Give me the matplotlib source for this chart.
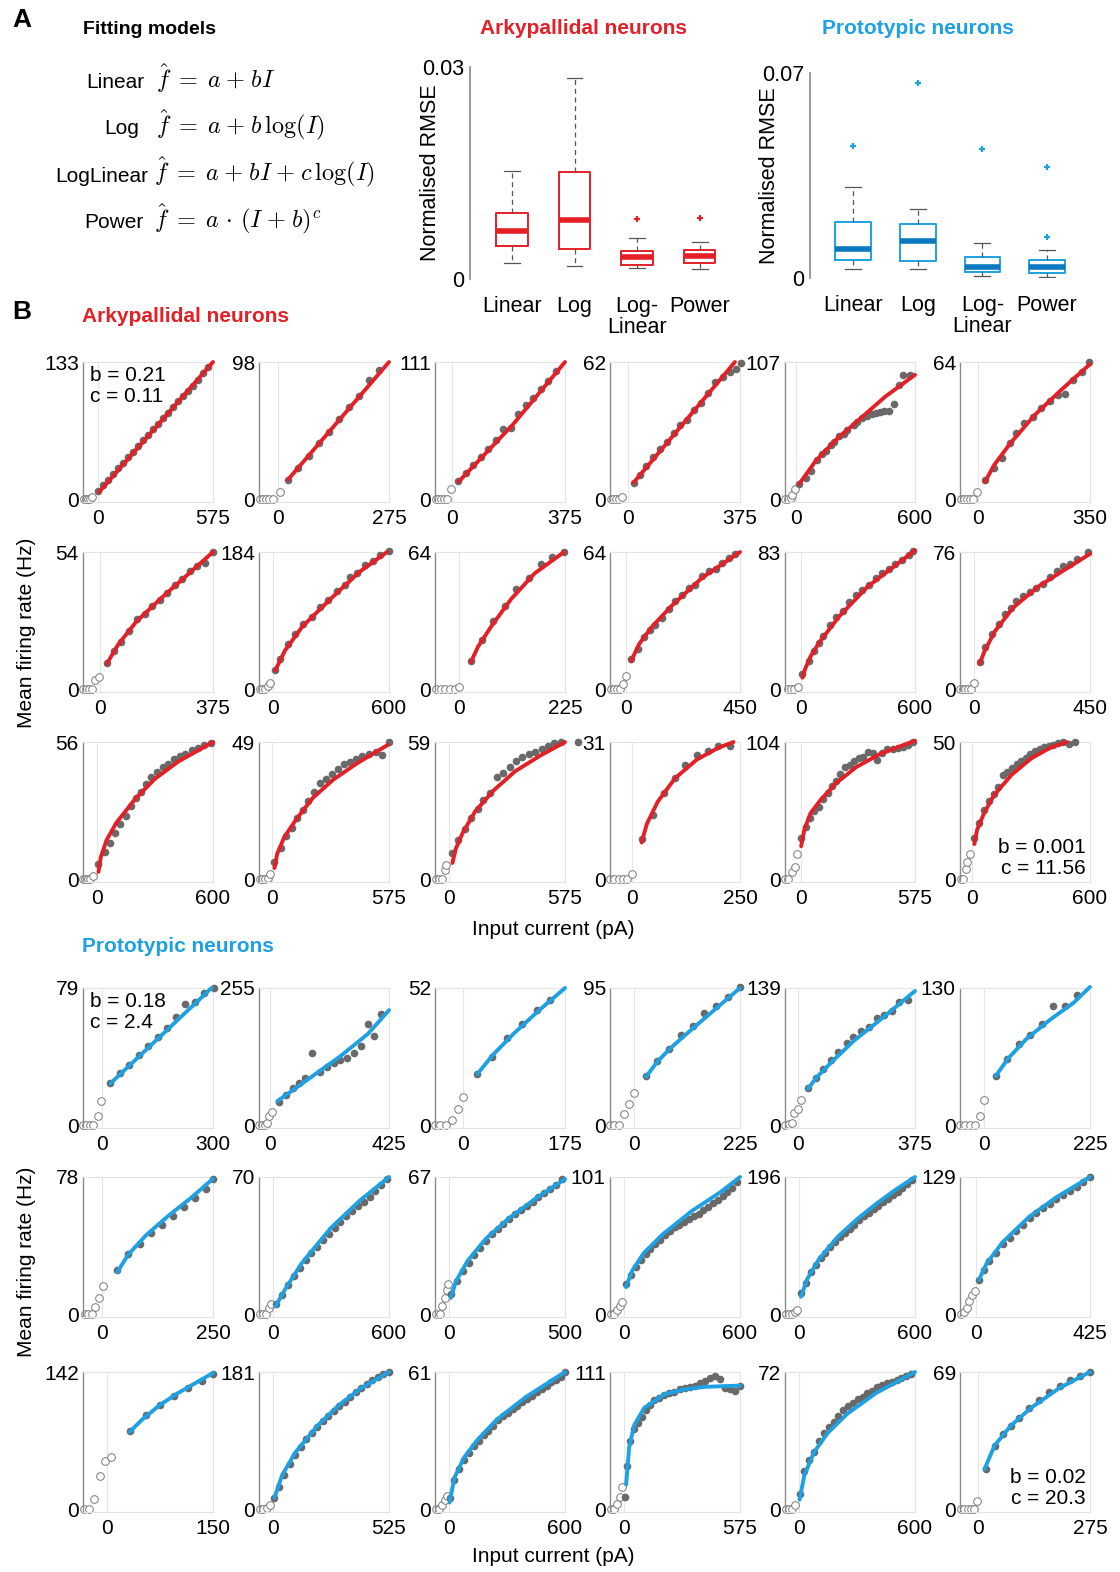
import numpy as np
import matplotlib.pyplot as plt

plt.rcParams.update({
    'font.family': 'Liberation Sans',
    'mathtext.fontset': 'cm',
    'font.size': 14,
})

RED = '#e41f26'
BLUE = '#1da1e2'
BLUE_MED = '#0b78c0'
DOT = '#696969'

# ---- panel A: normalised RMSE box plots ----
box_labels = ['Linear', 'Log', 'Log-\nLinear', 'Power']

red_med = [0.0068, 0.0083, 0.0031, 0.0032]
red_q1 = [0.0047, 0.0042, 0.0020, 0.0022]
red_q3 = [0.0093, 0.0152, 0.0039, 0.0041]
red_wlo = [0.0023, 0.0019, 0.0015, 0.0014]
red_whi = [0.0153, 0.0284, 0.0058, 0.0053]
red_fliers = [[], [], [0.0085], [0.0087]]

blue_med = [0.0098, 0.0127, 0.0037, 0.0039]
blue_q1 = [0.0061, 0.0058, 0.0020, 0.0018]
blue_q3 = [0.0192, 0.0183, 0.0072, 0.0063]
blue_wlo = [0.0031, 0.0031, 0.0006, 0.0002]
blue_whi = [0.0312, 0.0234, 0.0118, 0.0097]
blue_fliers = [[0.0451], [0.0666], [0.0442], [0.0380, 0.0140]]

# ---- panel B: f-I curves (Arkypallidal) ----
red_xmax = [575, 275, 375, 375, 600, 350, 375, 600, 225, 450, 600, 450, 600, 575, 575, 250, 575, 600]
red_ymax = [133, 98, 111, 62, 107, 64, 54, 184, 64, 64, 83, 76, 56, 49, 59, 31, 104, 50]
red_xlo = [-75, -48, -58, -60, -55, -57, -56, -75, -52, -65, -85, -55, -72, -64, -67, -50, -78, -62]

red_open_x = [
    [-70, -60, -50, -40, -28], [-46, -38, -30, -22, -13, 3], [-56, -47, -38, -29, -18, -5],
    [-58, -49, -40, -31, -20], [-53, -40, -27, -18, -6], [-55, -45, -35, -25, -15, -5],
    [-55, -45, -35, -26, -15, -3], [-72, -58, -44, -30, -17], [-50, -40, -30, -20, -10, 0],
    [-62, -50, -38, -25, -12, -3], [-70, -55, -40, -18], [-55, -45, -35, -25, -12, 0],
    [-72, -60, -48, -35, -20], [-61, -48, -35, -22, -10], [-60, -45, -30, -20, -12],
    [-50, -40, -30, -20, -10, 0], [-78, -65, -44, -30, -18], [-58, -45, -32, -24, -12],
]
red_open_y = [
    [0, 0, 0, 0, 2], [0, 0, 0, 0, 0, 5], [0, 0, 0, 0, 0, 8],
    [0, 0, 0, 0, 1], [0, 0, 1.3, 3.3, 7.7], [0, 0, 0, 0, 0, 3.5],
    [0, 0, 0, 0, 3.7, 5], [0, 0, 1, 4.4, 8.8], [0, 0, 0, 0, 0, 1.2],
    [0, 0, 0, 0, 2.3, 6], [0, 0, 0, 1.2], [0, 0, 0, 0, 0, 3.3],
    [0, 0, 0, 0.3, 1.3], [0, 0, 0, 0.5, 1.9], [0, 0, 0, 3.9, 6],
    [0, 0, 0, 0, 0, 1.2], [0, 0, 5.7, 9.4, 19], [0, 0, 3.9, 6.3, 9.3],
]
red_dot_x = [
    [0, 25, 50, 75, 100, 125, 150, 175, 200, 225, 250, 275, 300, 325, 350, 375, 400, 425, 450, 475, 500, 525, 550],
    [25, 50, 75, 100, 125, 150, 175, 200, 225, 250],
    [20, 45, 70, 95, 120, 145, 170, 195, 220, 245, 270, 295, 320, 345],
    [19, 40, 62, 85, 108, 130, 155, 175, 198, 220, 245, 268, 292, 318, 340, 360, 378],
    [17, 50, 75, 108, 130, 150, 175, 192, 217, 240, 258, 292, 310, 333, 360, 383, 405, 425, 445, 467, 492, 517, 542, 575],
    [21, 50, 73, 99, 118, 144, 172, 196, 224, 251, 272, 298, 324, 347],
    [23, 48, 70, 98, 123, 148, 172, 198, 223, 248, 272, 298, 322, 348, 375],
    [9, 35, 74, 112, 156, 199, 242, 285, 329, 372, 398, 433, 476, 519, 554, 600],
    [24, 49, 72, 98, 121, 148, 173, 197, 223],
    [18, 44, 71, 95, 115, 141, 168, 194, 220, 247, 273, 300, 326, 353, 379, 406, 432],
    [7, 39, 69, 92, 115, 150, 185, 219, 254, 289, 323, 358, 392, 427, 462, 497, 531, 566, 589],
    [21, 43, 69, 95, 118, 142, 164, 190, 216, 242, 268, 294, 320, 346, 372, 398, 441],
    [4, 42, 67, 91, 120, 149, 175, 200, 229, 253, 280, 309, 339, 368, 400, 429, 457, 491, 520, 552, 590],
    [12, 42, 71, 97, 122, 151, 178, 207, 236, 266, 297, 325, 356, 385, 415, 444, 478, 512, 541, 575],
    [19, 48, 82, 109, 144, 172, 205, 239, 268, 301, 335, 364, 397, 427, 460, 492, 523, 555, 640],
    [23, 49, 75, 99, 122, 150, 175, 199, 226],
    [3, 26, 49, 70, 91, 113, 136, 157, 179, 200, 223, 247, 270, 293, 314, 340, 362, 383, 409, 435, 462, 488, 514, 540, 566],
    [11, 36, 62, 86, 109, 132, 156, 179, 203, 226, 249, 273, 296, 319, 343, 366, 389, 413, 436, 460, 491, 522],
]
red_dot_y = [
    [8, 13.5, 19, 24.5, 30, 35, 40.5, 46, 51.5, 57, 62.5, 68, 73, 79, 84, 89, 95, 100, 105, 110, 116, 122, 128],
    [14, 22, 31, 40, 48, 57, 66, 74, 85, 92],
    [15, 21, 28, 34, 41, 48, 57, 58, 69, 76, 82, 89, 96, 104],
    [7.5, 11, 15, 19, 22.5, 26, 30, 33.5, 36, 40.5, 43.5, 48, 53, 55, 57.5, 59, 61.5],
    [12, 16.6, 22, 30.7, 35, 38, 42, 45, 49, 51, 54, 58, 60, 63, 65, 66.5, 67.5, 68, 68.5, 69, 74, 89, 97, 97],
    [9, 14.5, 19.4, 26, 31, 35.4, 38.4, 42.6, 46, 48.6, 49.3, 55.8, 59.4, 64],
    [10.4, 15, 18.7, 23, 27.8, 29.5, 32.6, 35, 37.7, 41, 43.5, 46.6, 48.5, 49.8, 54],
    [26, 40, 61, 74.5, 87, 97, 110, 119, 132, 140, 150, 156, 167, 172, 180, 185],
    [13, 23, 32, 39, 46.7, 52, 58.5, 61.6, 64],
    [14, 19, 24.5, 27.5, 30, 33.3, 37.6, 41, 44, 47, 48.8, 53, 55.3, 56, 59, 61, 63],
    [9.5, 17, 23, 28, 32, 38.7, 43.5, 47.4, 53, 57, 60, 63, 67, 70, 72.7, 75.7, 78, 81.4, 83.5],
    [15, 23.5, 30.7, 36, 41.6, 45, 48.8, 51.7, 54, 56, 58.4, 62, 65.6, 68.4, 69.3, 72, 76],
    [6.4, 11, 14.7, 18.7, 22.7, 26, 29.7, 33, 35.7, 38.7, 41.7, 43.7, 45.7, 47, 49, 50.4, 51, 52.8, 53.7, 54.7, 55.7],
    [6.2, 11.2, 15.5, 18.4, 22, 24.8, 27.8, 31, 34.2, 35.7, 37.7, 39.4, 41.2, 41.8, 43, 43.9, 44.7, 45.5, 44.3, 49],
    [11.5, 17, 21.6, 26.3, 30.2, 34, 37, 44, 45.7, 48.2, 50.7, 52.6, 53.7, 54.8, 55.8, 57.2, 58.5, 59, 59],
    [9, 14.6, 19.4, 22.8, 25.8, 28, 29, 30, 30],
    [31, 39.5, 46.4, 51.4, 55, 60.7, 65.7, 71, 74.8, 79.8, 84.7, 86.4, 89.6, 92, 93, 96.3, 95.3, 90.4, 96, 99, 99, 99.5, 100.2, 102, 104],
    [15.2, 20.5, 25.3, 28.5, 30.9, 33.6, 37.8, 39.2, 40.7, 42, 43.1, 44.3, 45.5, 46.7, 47.5, 48.2, 48.7, 49, 49.6, 49.9, 49.2, 49.9],
]
red_fit_x = [
    [5, 575], [24, 275], [20, 200, 375], [19, 358], [17, 100, 200, 325, 450, 600], [21, 50, 100, 175, 260, 350],
    [23, 60, 120, 200, 290, 375], [9, 60, 150, 300, 450, 590], [24, 40, 70, 110, 160, 223],
    [18, 50, 100, 180, 300, 450], [7, 20, 50, 100, 200, 350, 600], [21, 40, 80, 150, 250, 350, 450],
    [8, 20, 50, 100, 200, 300, 420, 600], [12, 25, 60, 120, 200, 300, 420, 570], [19, 35, 70, 130, 220, 330, 450, 575],
    [23, 35, 60, 100, 150, 200, 235], [3, 20, 50, 100, 180, 280, 400, 575], [11, 25, 60, 110, 200, 300, 400, 482],
]
red_fit_y = [
    [7, 133], [14, 98], [14, 60, 111], [7.5, 62], [12, 30, 46, 63, 80, 97], [8, 16, 26, 39, 51, 63],
    [10, 17.5, 26.5, 35.5, 45, 54], [25, 52, 84, 122, 158, 184], [12.5, 20, 30, 42, 54, 64],
    [13, 21, 29, 39, 52, 64], [7, 12, 20, 29, 44, 62, 84], [14, 21, 32, 45, 57, 66, 75],
    [3, 9, 16, 23, 33, 41, 48, 56], [4, 9, 15, 21.5, 29, 35.5, 41.5, 48], [7, 13, 20, 29, 38, 46.5, 53, 59],
    [8.3, 12.5, 17.5, 22.8, 27, 29.7, 31], [25, 38, 50, 60, 73, 85, 95, 105], [12.8, 18, 24, 30.5, 38, 44, 48, 50],
]

# ---- panel B: f-I curves (Prototypic) ----
blue_xmax = [300, 425, 175, 225, 375, 225, 250, 600, 500, 600, 600, 425, 150, 525, 600, 575, 600, 275]
blue_ymax = [79, 255, 52, 95, 139, 130, 78, 70, 67, 101, 196, 129, 142, 181, 61, 111, 72, 69]
blue_xlo = [-52, -41, -49, -50, -43, -52, -42, -70, -60, -75, -75, -60, -34, -65, -70, -70, -70, -45]

blue_open_x = [
    [-52, -43, -33, -24, -12, -2], [-41, -31, -21, -12, -4, 6], [-49, -40, -30, -20, -10, 0],
    [-50, -41, -30, -20, -9, 0], [-43, -31, -20, -13, -2, 9], [-52, -41, -31, -21, -9, 0],
    [-38, -30, -22, -14, -6, 4], [-65, -50, -35, -20, -8], [-55, -40, -28, -18, -10, -3],
    [-70, -55, -40, -25, -12], [-70, -55, -40, -25, -12], [-55, -45, -35, -25, -15, -5],
    [-33, -26, -18, -10, -3, 6], [-60, -45, -30, -15], [-65, -50, -35, -20, -8],
    [-65, -50, -35, -20, -8], [-65, -50, -35, -20], [-42, -34, -26, -18, -10, -2],
]
blue_open_y = [
    [0, 0, 0, 0, 5.6, 14], [0, 0, 0, 4.2, 18, 25.5], [0, 0, 0, 2, 6, 10.7],
    [0, 0, 0, 7.7, 14.5, 22], [0, 1.3, 2.3, 12, 16.6, 25.5], [0, 0, 0, 0, 8.4, 23.8],
    [0, 0, 0, 4, 9, 16], [0, 0, 0, 3, 5], [0, 0, 4, 8, 12, 15],
    [0, 0, 3, 6, 9], [0, 0, 0, 3, 6], [0, 2, 6, 12, 18, 22],
    [0, 0, 11, 34, 50, 54], [0, 0, 2, 5], [0, 0, 2, 4, 6],
    [0, 0, 4, 10, 18], [0, 0, 0, 2], [0, 0, 0, 0, 0, 4],
]
blue_dot_x = [
    [22, 48, 73, 100, 125, 150, 176, 200, 224, 250, 276, 302],
    [31, 56, 81, 104, 125, 150, 179, 204, 229, 250, 275, 300, 325, 348, 373, 396],
    [24, 50, 75, 101, 126, 150],
    [26, 50, 75, 100, 125, 148, 174, 200, 225],
    [31, 58, 78, 106, 129, 155, 177, 202, 228, 252, 275, 300, 325, 351],
    [24, 48, 73, 98, 123, 147, 171, 197],
    [35, 60, 85, 110, 135, 160, 185, 210, 235, 250],
    [20, 50, 80, 110, 140, 170, 200, 230, 260, 290, 320, 350, 380, 410, 440, 470, 500, 530, 560, 590],
    [10, 35, 60, 85, 110, 135, 160, 185, 210, 235, 260, 285, 310, 335, 360, 385, 410, 435, 460, 485],
    [10, 35, 60, 85, 110, 135, 160, 185, 210, 235, 260, 285, 310, 335, 360, 385, 410, 435, 460, 485, 510, 535, 560, 585],
    [10, 35, 60, 85, 110, 135, 160, 185, 210, 235, 260, 285, 310, 335, 360, 385, 410, 435, 460, 485, 510, 535, 560, 585],
    [10, 30, 50, 75, 100, 125, 150, 175, 200, 225, 250, 275, 300, 325, 350, 375, 400, 425],
    [32, 55, 75, 95, 115, 135, 150],
    [5, 25, 50, 75, 100, 125, 150, 175, 200, 225, 250, 275, 300, 325, 350, 375, 400, 425, 450, 475, 500, 525],
    [5, 30, 55, 80, 105, 130, 155, 180, 205, 230, 255, 280, 305, 330, 355, 380, 405, 430, 455, 480, 505, 530, 555, 580, 600],
    [5, 15, 30, 50, 70, 90, 110, 130, 150, 175, 200, 225, 250, 275, 300, 325, 350, 375, 400, 425, 450, 475, 500, 525, 550, 575],
    [5, 30, 55, 80, 105, 130, 155, 180, 205, 230, 255, 280, 305, 330, 355, 380, 405, 430, 455, 480, 505, 530, 555, 580],
    [20, 40, 60, 80, 100, 125, 150, 175, 200, 225, 250, 275],
]
blue_dot_y = [
    [24.4, 30, 34.8, 40.2, 45.5, 50.6, 55.8, 62.4, 70, 70.9, 76, 79],
    [43.7, 57, 69, 79, 87, 133.6, 99.6, 109, 115, 121, 125.7, 133.6, 147, 189, 166, 207.6],
    [19.4, 26, 33, 38.3, 43.5, 47.5],
    [34, 44.6, 53, 62.7, 68.8, 77.4, 82.4, 89, 95.5],
    [37.7, 47.7, 57, 66, 74, 82.8, 89.4, 95, 100, 109, 111.6, 116, 125, 126.5],
    [47, 63, 77, 85.8, 96, 112.7, 113, 123],
    [25, 34, 40, 46, 51, 56, 61, 66, 71, 77],
    [5, 10, 15, 19.5, 23.5, 27.5, 31, 34.5, 38, 41, 44, 47, 50, 52.5, 55, 57.5, 60, 63, 66, 69],
    [10, 16, 21, 25, 29, 32.5, 36, 39, 41.5, 44, 46.5, 49, 51, 53, 55, 57, 59, 61, 63, 66],
    [22, 29, 35, 40, 44, 48, 52, 55, 58, 61, 64, 66, 68, 70, 72, 74, 77, 79, 82, 84, 87, 90, 93, 97],
    [30, 45, 60, 70, 80, 88, 96, 103, 110, 116, 122, 128, 134, 140, 145, 150, 155, 160, 165, 170, 175, 180, 186, 192],
    [32, 42, 50, 58, 66, 72, 78, 84, 90, 95, 100, 104, 108, 112, 116, 120, 124, 129],
    [81, 97, 108, 117, 125, 133, 140],
    [15, 30, 45, 60, 72, 82, 92, 100, 108, 116, 123, 130, 136, 142, 148, 155, 160, 165, 170, 175, 178, 181],
    [5, 13, 18, 22, 25, 28, 30.5, 33, 35, 37, 39.5, 41.5, 43, 44.5, 46, 47.5, 49, 50.5, 52, 53.5, 55, 56.5, 57.5, 59, 61],
    [10, 35, 55, 65, 70, 75, 80, 84, 88, 90, 92, 94, 95, 97, 98, 99, 100, 102, 104, 106, 108, 105, 98, 97, 96, 100],
    [8, 20, 26, 30, 36, 40, 43, 46, 49, 52, 54, 56, 58, 59, 61, 62, 64, 65, 66, 67, 68, 69, 70, 71],
    [20, 32, 38, 42, 46, 51, 55, 59, 62, 65, 67, 69],
]
blue_fit_x = [
    [22, 296], [25, 80, 150, 250, 350, 425], [24, 50, 87, 130, 175],
    [26, 50, 80, 125, 175, 225], [31, 60, 110, 180, 260, 375], [24, 50, 90, 140, 190, 225],
    [35, 60, 100, 150, 200, 250], [15, 60, 150, 300, 450, 600], [8, 30, 80, 160, 260, 380, 500],
    [8, 40, 100, 200, 350, 500, 600], [8, 40, 100, 200, 300, 400, 500, 600], [10, 40, 100, 200, 300, 425],
    [32, 50, 75, 100, 150], [5, 40, 100, 200, 300, 400, 525], [5, 30, 80, 150, 250, 400, 600],
    [10, 25, 50, 100, 200, 300, 400, 575], [5, 30, 80, 150, 250, 400, 600], [15, 40, 80, 130, 200, 275],
]
blue_fit_y = [
    [24, 79], [45, 65, 91, 128, 170, 214], [19.4, 26.5, 34.8, 43.5, 52],
    [33.5, 44, 54, 67, 81, 95], [37, 49, 65, 86, 106, 136], [46.5, 63, 82, 100, 116, 131],
    [24, 34, 45, 56, 66, 77], [4, 12, 26, 44, 58, 70], [8, 16, 26, 37, 47, 57, 66],
    [20, 32, 45, 59, 76, 90, 101], [25, 50, 78, 111, 136, 158, 178, 196], [32, 48, 68, 92, 110, 129],
    [80, 93, 108, 120, 141], [15, 45, 75, 110, 138, 160, 181], [3, 14, 23, 31, 40, 50, 61],
    [20, 50, 68, 82, 93, 97, 99, 100], [5, 18, 30, 40, 50, 61, 72], [20, 32, 42, 51, 61, 69],
]

W, H = 1120, 1572
fig = plt.figure(figsize=(W / 100, H / 100), dpi=100)


def px_axes(left, top, width, height):
    return fig.add_axes([left / W, 1 - (top + height) / H, width / W, height / H])


def px_text(x, y, s, **kw):
    return fig.text(x / W, 1 - y / H, s, **kw)


# ---------- A ----------
px_text(12, 20, 'A', fontsize=19, fontweight='bold', va='center')
px_text(83, 29, 'Fitting models', fontsize=14, fontweight='bold', va='center')
model_names = ['Linear', 'Log', 'LogLinear', 'Power']
model_eqs = [r'$\hat{f}\;=\;a\;{+}\;bI$', r'$\hat{f}\;=\;a\;{+}\;b\,\log(I)$',
             r'$\hat{f}\;=\;a\;{+}\;bI\;{+}\;c\,\log(I)$', r'$\hat{f}\;=\;a\,\cdot\,(I\;{+}\;b)^c$']
name_right = [144, 139, 148, 144]
eq_left = [156, 156, 154, 154]
for i, (nm, eq) in enumerate(zip(model_names, model_eqs)):
    yy = 82 + 47 * i
    px_text(name_right[i], yy, nm, fontsize=15, ha='right', va='center')
    px_text(eq_left[i], yy - 4, eq, fontsize=17.5, ha='left', va='center')


def box_panel(ax, med, q1, q3, wlo, whi, fliers, col, medcol, ytop, width):
    stats = []
    for i in range(len(med)):
        stats.append(dict(med=med[i], q1=q1[i], q3=q3[i], whislo=wlo[i], whishi=whi[i], fliers=fliers[i]))
    ax.bxp(stats, positions=[1, 2, 3, 4], widths=width, capwidths=0.25, patch_artist=False,
           boxprops=dict(color=col, linewidth=1.4),
           medianprops=dict(color=medcol, linewidth=4, solid_capstyle='butt'),
           whiskerprops=dict(color='#555555', linewidth=0.9, linestyle=(0, (4, 3))),
           capprops=dict(color='#555555', linewidth=0.9),
           flierprops=dict(marker='+', markeredgecolor=col, markersize=5, markeredgewidth=1.6))
    ax.set_xlim(0.33, 4.42)
    ax.set_ylim(0, ytop)
    for s in ['top', 'right', 'bottom']:
        ax.spines[s].set_visible(False)
    ax.spines['left'].set_color('#888888')
    ax.spines['left'].set_linewidth(1.2)
    ax.set_yticks([0, ytop])
    ax.set_yticklabels(['0', f'{ytop:g}'])
    ax.set_xticks([1, 2, 3, 4])
    ax.set_xticklabels(box_labels, linespacing=1.05)
    ax.tick_params(length=0, labelsize=15.5, pad=4)
    ax.tick_params(axis='x', pad=12)
    ax.set_ylabel('Normalised RMSE', fontsize=15.5)
    ax.yaxis.set_label_coords(-0.115, 0.5)


ax_r = px_axes(470, 67, 256, 212)
box_panel(ax_r, red_med, red_q1, red_q3, red_wlo, red_whi, red_fliers, RED, RED, 0.03, 0.5)
ax_b = px_axes(810, 73, 264, 205)
box_panel(ax_b, blue_med, blue_q1, blue_q3, blue_wlo, blue_whi, blue_fliers, BLUE, BLUE_MED, 0.07, 0.55)
px_text(583, 29, 'Arkypallidal neurons', fontsize=15, fontweight='bold', color=RED, ha='center', va='center')
px_text(918, 29, 'Prototypic neurons', fontsize=15, fontweight='bold', color=BLUE, ha='center', va='center')

# ---------- B ----------
px_text(12, 312, 'B', fontsize=19, fontweight='bold', va='center')
px_text(82, 316, 'Arkypallidal neurons', fontsize=15, fontweight='bold', color=RED, va='center')
px_text(82, 946, 'Prototypic neurons', fontsize=15, fontweight='bold', color=BLUE, va='center')

col_left = [83, 259, 435, 610, 785, 960]
red_top = [362, 552, 742]
blue_top = [988, 1177, 1372]


def fi_panel(ax, xmax, ymax, xlo, ox, oy, dx, dy, fx, fy, col):
    ax.set_xlim(xlo, xmax)
    ax.set_ylim(-0.02 * ymax, ymax)
    ax.axvline(0, color='#e6e6e6', lw=0.8, zorder=0)
    ax.plot(ox, oy, 'o', mfc='white', mec='#7a7a7a', mew=0.7, ms=5.5, clip_on=False, zorder=2)
    ax.plot(dx, dy, 'o', color=DOT, ms=5.5, mew=0, clip_on=False, zorder=3)
    ax.plot(fx, fy, '-', color=col, lw=2.8, solid_capstyle='round', solid_joinstyle='round',
            clip_on=False, zorder=4)
    for s in ['top', 'right', 'bottom']:
        ax.spines[s].set_color('#e3e3e3')
        ax.spines[s].set_linewidth(0.8)
    ax.spines['left'].set_color('#8a8a8a')
    ax.spines['left'].set_linewidth(1.0)
    ax.set_xticks([0, xmax])
    ax.set_yticks([0, ymax])
    ax.tick_params(length=0, labelsize=15)
    ax.tick_params(axis='y', pad=3)
    ax.tick_params(axis='x', pad=5)


def draw_group(tops, xmax, ymax, xlo, ox, oy, dx, dy, fx, fy, col):
    axes = []
    for k in range(18):
        r, c = divmod(k, 6)
        ax = px_axes(col_left[c], tops[r], 130, 140)
        fi_panel(ax, xmax[k], ymax[k], xlo[k], ox[k], oy[k], dx[k], dy[k], fx[k], fy[k], col)
        axes.append(ax)
    return axes


red_axes = draw_group(red_top, red_xmax, red_ymax, red_xlo, red_open_x, red_open_y,
                      red_dot_x, red_dot_y, red_fit_x, red_fit_y, RED)
blue_axes = draw_group(blue_top, blue_xmax, blue_ymax, blue_xlo, blue_open_x, blue_open_y,
                       blue_dot_x, blue_dot_y, blue_fit_x, blue_fit_y, BLUE)

red_axes[0].text(0.05, 0.97, 'b = 0.21\nc = 0.11', transform=red_axes[0].transAxes,
                 fontsize=15, va='top', ha='left', linespacing=1.15)
red_axes[17].text(0.97, 0.03, 'b = 0.001\nc = 11.56', transform=red_axes[17].transAxes,
                  fontsize=15, va='bottom', ha='right', linespacing=1.15)
blue_axes[0].text(0.05, 0.97, 'b = 0.18\nc = 2.4', transform=blue_axes[0].transAxes,
                  fontsize=15, va='top', ha='left', linespacing=1.15)
blue_axes[17].text(0.97, 0.03, 'b = 0.02\nc = 20.3', transform=blue_axes[17].transAxes,
                   fontsize=15, va='bottom', ha='right', linespacing=1.15)

px_text(27, 633, 'Mean firing rate (Hz)', fontsize=15, rotation=90, ha='center', va='center')
px_text(27, 1262, 'Mean firing rate (Hz)', fontsize=15, rotation=90, ha='center', va='center')
px_text(553, 929, 'Input current (pA)', fontsize=15, ha='center', va='center')
px_text(553, 1557, 'Input current (pA)', fontsize=15, ha='center', va='center')

fig.savefig('out.png', dpi=100)
